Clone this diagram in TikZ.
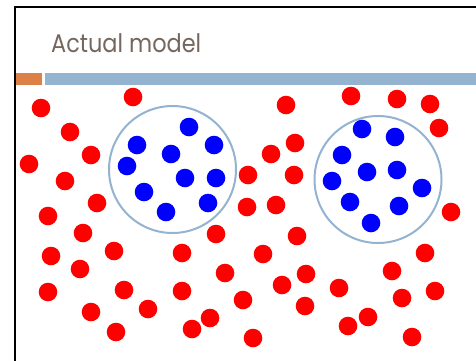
\documentclass[tikz,border=0pt]{standalone}
\usepackage{fontspec}
\newfontfamily\titlefont{Poppins}
\definecolor{titlecol}{RGB}{118,103,94}
\definecolor{barblue}{RGB}{147,179,208}
\definecolor{barorange}{RGB}{221,128,71}
\definecolor{ringblue}{RGB}{147,179,208}
\begin{document}
\begin{tikzpicture}[x=1pt,y=-1pt,
  reddot/.style={circle,fill=red,minimum size=18.6pt,inner sep=0pt},
  bluedot/.style={circle,fill=blue,minimum size=18.6pt,inner sep=0pt},
  ring/.style={circle,draw=ringblue,line width=2pt,minimum size=127pt,inner sep=0pt}]
\useasboundingbox (0,0) rectangle (476,360);
\fill[white] (0,0) rectangle (476,360);
\draw[line width=2.3pt] (15.2,365) -- (15.2,7.2) -- (480,7.2);
\fill[barorange] (16,72.7) rectangle (42,84.7);
\fill[barblue] (45,72.7) rectangle (480,84.7);
\node[anchor=base west,text=titlecol,font=\titlefont\fontsize{25.5}{25.5}\selectfont,inner sep=0pt] (title) at (51,52.8) {\scalebox{0.88}[1]{Actual model}};
\node[ring] (ring1) at (172.5,169.5) {};
\node[ring] (ring2) at (378,179.5) {};
\foreach \x/\y [count=\i] in {41/108,133/97,70/132,91/155,29/164,65/181,97/203,48/216,83/233,51/256,114/251,80/269,48/292,124/290,91/312,148/309,116/332,182/253,216/234,225/273,182/291,210/318,192/329,243/300,253/338,263/254,297/236,306/274,282/285,305/306,339/288,348/326,368/317,392/271,402/298,412/337,425/253,435/291,451/212,286/105,351/96,397/99,430/104,439/128,295/143,271/154,248/175,294/175,247/207,276/205}
  \node[reddot] (r\i) at (\x,\y) {};
\foreach \x/\y [count=\i] in {189/127,137/145,214/145,171/154,127/166,185/178,216/178,144/192,208/203,166/212,362/129,395/137,342/155,367/172,397/170,332/181,422/188,350/202,399/206,371/223}
  \node[bluedot] (b\i) at (\x,\y) {};
\end{tikzpicture}
\end{document}
